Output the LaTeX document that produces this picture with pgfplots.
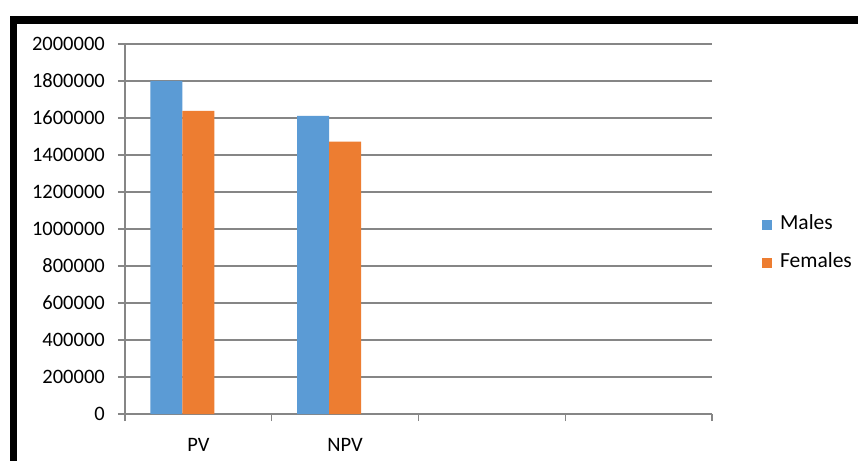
\documentclass[border=0pt]{standalone}
\usepackage{fontspec}
\setmainfont{Carlito}
\usepackage{pgfplots}
\pgfplotsset{compat=1.18}
\definecolor{mblue}{HTML}{5B9BD5}
\definecolor{forange}{HTML}{ED7D31}
\definecolor{gridgray}{HTML}{868686}
\begin{document}
\begin{tikzpicture}[x=1pt,y=1pt]
\path[use as bounding box, fill=white] (0,0) rectangle (858,461);
\fill[black] (10,437) rectangle (858,445);
\fill[black] (10,0) rectangle (17,445);
\begin{axis}[
  at={(125pt,47pt)}, anchor=south west,
  scale only axis, width=587pt, height=370pt,
  ybar,
  xmin=-0.5, xmax=3.5,
  ymin=0, ymax=2000000,
  ytick={0,200000,...,2000000},
  scaled y ticks=false,
  yticklabel style={/pgf/number format/fixed, /pgf/number format/1000 sep={}, /pgf/number format/assume math mode=true, anchor=east, inner sep=0pt, xshift=-13pt},
  xtick={-0.5,0.5,1.5,2.5,3.5},
  xticklabels={},
  extra x ticks={0,1},
  extra x tick labels={PV,NPV},
  extra x tick style={major tick length=0pt, xticklabel style={anchor=north, inner sep=0pt, yshift=-24pt}},
  axis lines*=left,
  axis line style={gridgray, line width=1.6pt},
  tick align=outside,
  major tick length=7pt,
  tick style={gridgray, line width=1.2pt},
  ymajorgrids,
  grid style={gridgray, line width=1.2pt},
  xmajorgrids=false,
  ticklabel style={font=\fontsize{20.5}{24}\selectfont},
  bar width=32pt,
  legend image code/.code={\fill[#1] (0pt,-5pt) rectangle (10pt,5pt); \path (18pt,0pt);},
  legend style={at={(1.085,0.4595)}, anchor=west, draw=none, fill=none,
    font=\fontsize{21.5}{24}\selectfont, inner sep=0pt, row sep=20pt,
    nodes={inner sep=0pt, text height=14pt, text depth=4pt}},
  legend cell align=left,
  clip=false,
]
\addplot+[bar shift=-32pt, fill=mblue, draw=none] coordinates {(0,1800000) (1,1612000)};
\addplot+[bar shift=0pt, fill=forange, draw=none] coordinates {(0,1638000) (1,1472000)};
\legend{Males,Females}
\end{axis}
\end{tikzpicture}
\end{document}
